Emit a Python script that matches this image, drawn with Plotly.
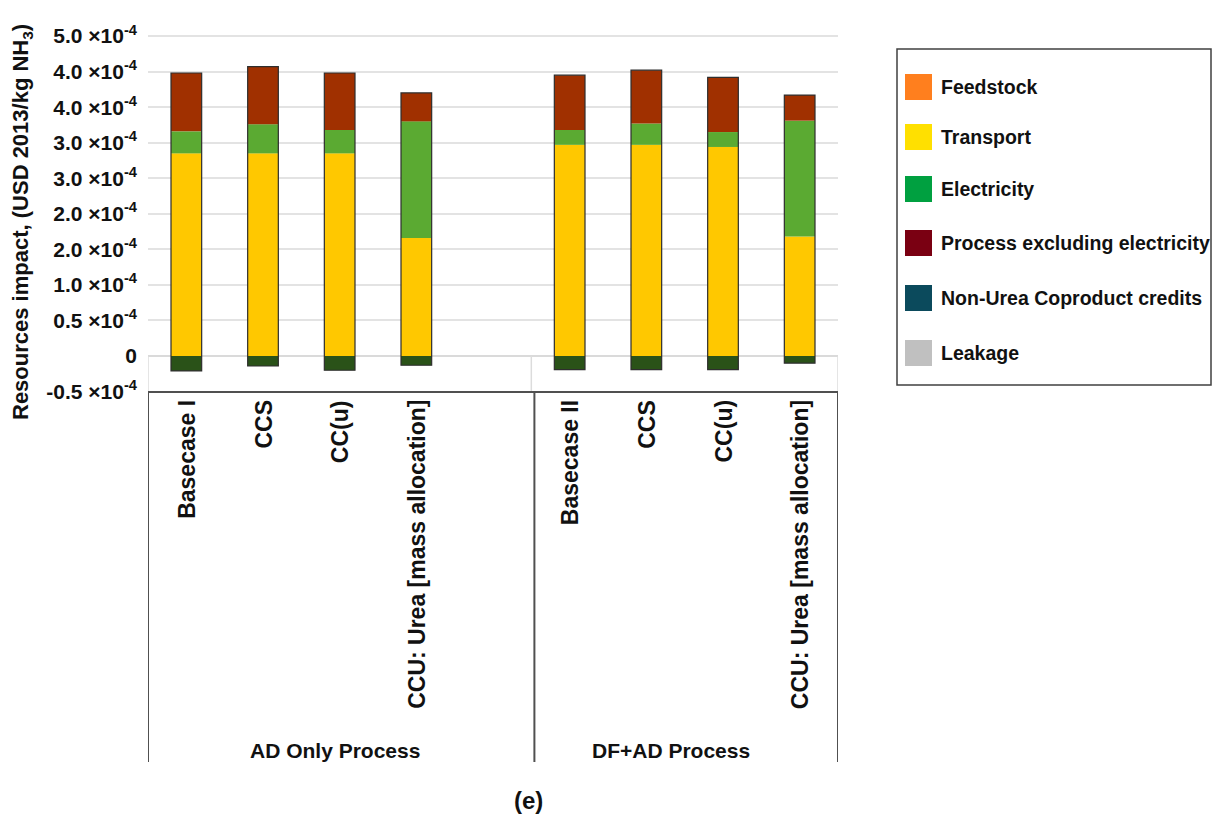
import plotly.graph_objects as go

# ---- data (values in USD 2013 per kg NH3) ----
group_names = ["AD Only Process", "DF+AD Process"]
scenarios_ad = ["Basecase I", "CCS", "CC(u)", "CCU: Urea [mass allocation]"]
scenarios_df = ["Basecase II", "CCS", "CC(u)", "CCU: Urea [mass allocation]"]

transport = [2.85e-4, 2.85e-4, 2.85e-4, 1.66e-4, 2.97e-4, 2.97e-4, 2.94e-4, 1.68e-4]
electricity = [0.31e-4, 0.41e-4, 0.33e-4, 1.64e-4, 0.21e-4, 0.30e-4, 0.21e-4, 1.63e-4]
process_excl_elec = [0.82e-4, 0.81e-4, 0.80e-4, 0.40e-4, 0.77e-4, 0.75e-4, 0.77e-4, 0.36e-4]
coproduct_credits = [-0.21e-4, -0.14e-4, -0.20e-4, -0.13e-4, -0.19e-4, -0.19e-4, -0.19e-4, -0.10e-4]

legend_names = ["Feedstock", "Transport", "Electricity", "Process excluding electricity",
                "Non-Urea Coproduct credits", "Leakage"]
legend_colors = ["#FF7F1E", "#FFE000", "#00A040", "#7A0012", "#0B4A5C", "#C0C0C0"]

y_tick_vals = [-0.5e-4, 0, 0.5e-4, 1.0e-4, 1.5e-4, 2.0e-4, 2.5e-4, 3.0e-4, 3.5e-4, 4.0e-4, 4.5e-4]
y_tick_text = ["-0.5", "0", "0.5", "1.0", "2.0", "2.0", "3.0", "3.0", "4.0", "4.0", "5.0"]

# ---- layout geometry ----
W_FIG, H_FIG = 1213, 817
L, R, T, B = 148, 375, 30, 425
PW, PH = W_FIG - L - R, H_FIG - T - B
PLOT_BOTTOM = T + PH


def px(x):
    return (x - L) / PW


def py(y):
    return (PLOT_BOTTOM - y) / PH


FONT = "Arial, Liberation Sans, sans-serif"
INK = "#111111"

# bar positions: one empty slot between the two process groups
scenarios = scenarios_ad + scenarios_df
xpos = [i for i in range(len(scenarios_ad))] + [len(scenarios_ad) + 1 + i for i in range(len(scenarios_df))]

# manual stacking
base_el = transport
base_pr = [t + e for t, e in zip(transport, electricity)]
totals = [b + p for b, p in zip(base_pr, process_excl_elec)]

bar_w = 0.40
fig = go.Figure()
fig.add_bar(x=xpos, y=transport, base=[0] * len(xpos), width=bar_w,
            marker=dict(color="#FFC800", line=dict(width=0)), name="Transport", showlegend=False)
fig.add_bar(x=xpos, y=electricity, base=base_el, width=bar_w,
            marker=dict(color="#5BAA32", line=dict(width=0)), name="Electricity", showlegend=False)
fig.add_bar(x=xpos, y=process_excl_elec, base=base_pr, width=bar_w,
            marker=dict(color="#A03000", line=dict(width=0)), name="Process excluding electricity",
            showlegend=False)
fig.add_bar(x=xpos, y=coproduct_credits, base=[0] * len(xpos), width=bar_w,
            marker=dict(color="#2A5218", line=dict(width=0)), name="Non-Urea Coproduct credits",
            showlegend=False)
# outline around each whole stacked column
fig.add_bar(x=xpos, y=[t - c for t, c in zip(totals, coproduct_credits)], base=coproduct_credits,
            width=bar_w, marker=dict(color="rgba(0,0,0,0)", line=dict(color="#2E2E2E", width=1.2)),
            showlegend=False, hoverinfo="skip")

fig.update_layout(
    width=W_FIG, height=H_FIG,
    margin=dict(l=L, r=R, t=T, b=B),
    paper_bgcolor="white", plot_bgcolor="white",
    barmode="overlay",
    showlegend=False,
    font=dict(family=FONT, color=INK),
)

fig.update_xaxes(
    range=[-0.5, 8.5], tickvals=xpos, showticklabels=False,
    showgrid=False, zeroline=False, showline=False, ticks="",
)
fig.update_yaxes(
    range=[-0.506e-4, 4.585e-4], tickvals=y_tick_vals,
    ticktext=["<b>%s</b>" % t if t == "0" else "<b>%s \u00d710<sup>-4</sup></b>" % t for t in y_tick_text],
    tickfont=dict(family=FONT, size=21, color=INK),
    showgrid=True, gridcolor="#E3E3E3", gridwidth=2,
    zeroline=True, zerolinecolor="#DADADA", zerolinewidth=1.5,
    showline=False, ticks="", ticklabelstandoff=10,
)

shapes = []
# light frame between zero and the bottom of the plot
for xv in (-0.5, 4.5, 8.5):
    shapes.append(dict(type="line", xref="x", yref="y", x0=xv, x1=xv, y0=0, y1=-0.506e-4,
                       line=dict(color="#DCDCDC", width=1.5)))
# dark category frame below the plot
shapes.append(dict(type="line", xref="x", yref="paper", x0=-0.5, x1=8.5, y0=0, y1=0,
                   line=dict(color="#505050", width=2)))
for xv in (-0.5, 4.54, 8.5):
    shapes.append(dict(type="line", xref="x", yref="paper", x0=xv, x1=xv, y0=0, y1=py(762),
                       line=dict(color="#505050", width=2)))

annotations = []
# rotated scenario labels under each column
for xv, name in zip(xpos, scenarios):
    annotations.append(dict(text="<b>%s</b>" % name, xref="x", yref="paper", x=xv, y=py(398),
                            xanchor="center", yanchor="top", textangle=-90, showarrow=False,
                            font=dict(family=FONT, size=23, color=INK)))

# legend frame and swatches
shapes.append(dict(type="rect", xref="paper", yref="paper", x0=px(897), x1=px(1211),
                   y0=py(385), y1=py(49), line=dict(color="#404040", width=1.5)))
legend_y = [87, 137, 189, 243, 298, 353]
for name, col, yc in zip(legend_names, legend_colors, legend_y):
    shapes.append(dict(type="rect", xref="paper", yref="paper", x0=px(905), x1=px(932),
                       y0=py(yc + 13), y1=py(yc - 13), fillcolor=col,
                       line=dict(color=col, width=0)))
    annotations.append(dict(text="<b>%s</b>" % name, xref="paper", yref="paper", x=px(939), y=py(yc),
                            xanchor="left", yanchor="middle", showarrow=False,
                            font=dict(family=FONT, size=19.5, color=INK)))

# group labels
annotations.append(dict(text="<b>%s</b>" % group_names[0], xref="paper", yref="paper",
                        x=px(335), y=py(750), xanchor="center", yanchor="middle", showarrow=False,
                        font=dict(family=FONT, size=21, color=INK)))
annotations.append(dict(text="<b>%s</b>" % group_names[1], xref="paper", yref="paper",
                        x=px(671), y=py(750), xanchor="center", yanchor="middle", showarrow=False,
                        font=dict(family=FONT, size=21, color=INK)))
# panel tag
annotations.append(dict(text="<b>(e)</b>", xref="paper", yref="paper", x=px(528), y=py(800),
                        xanchor="center", yanchor="middle", showarrow=False,
                        font=dict(family=FONT, size=24, color=INK)))
# y-axis title
annotations.append(dict(text="<b>Resources impact, (USD 2013/kg NH<sub>3</sub>)</b>", xref="paper",
                        yref="paper", x=px(22), y=py(222), xanchor="center", yanchor="middle",
                        textangle=-90, showarrow=False,
                        font=dict(family=FONT, size=22, color=INK)))

fig.update_layout(shapes=shapes, annotations=annotations)
fig.write_html("out.html")
